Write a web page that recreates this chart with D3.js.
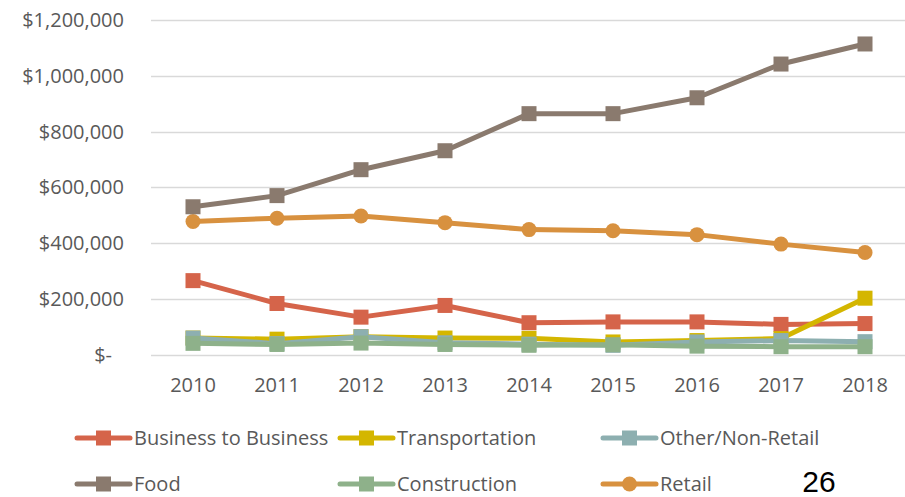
<!DOCTYPE html>
<html><head><meta charset="utf-8">
<script src="https://cdn.jsdelivr.net/npm/d3@7"></script>
<style>body{margin:0;background:#fff}svg{display:block}</style>
</head><body>
<svg id="c" width="905" height="497"></svg>
<script>
const years = ["2010","2011","2012","2013","2014","2015","2016","2017","2018"];
const businessToBusiness = [265000,183000,134000,176000,114000,117000,117000,108000,111000];
const transportation = [59000,55000,64000,59000,58000,45000,50000,57000,202000];
const otherNonRetail = [59000,39000,64000,42000,37000,33000,45000,50000,46000];
const food = [530000,570000,663000,731000,864000,864000,921000,1042000,1114000];
const construction = [40000,36000,41000,36000,33000,35000,30000,28000,28000];
const retail = [477000,489000,497000,473000,448000,444000,430000,396000,366000];
const yTicks = [0,200000,400000,600000,800000,1000000,1200000];

const series = [
  {name:"Business to Business", values:businessToBusiness, color:"#D5644A", marker:"square"},
  {name:"Transportation", values:transportation, color:"#D4B600", marker:"square"},
  {name:"Other/Non-Retail", values:otherNonRetail, color:"#8DAFB0", marker:"square"},
  {name:"Food", values:food, color:"#8A7A6E", marker:"square"},
  {name:"Construction", values:construction, color:"#8EB18A", marker:"square"},
  {name:"Retail", values:retail, color:"#D8913F", marker:"circle"}
];
const drawOrder = ["Business to Business","Retail","Food","Transportation","Other/Non-Retail","Construction"];

const svg = d3.select("#c");
const font = "'Open Sans', sans-serif";
const fs = 20;
const x = d3.scaleBand().domain(years).range([151, 907]);
const y = d3.scaleLinear().domain([0,1200000]).range([354.5, 20]);

svg.append("g").selectAll("line").data(yTicks).join("line")
  .attr("x1",151).attr("x2",905)
  .attr("y1",d=>Math.round(y(d))+0.5).attr("y2",d=>Math.round(y(d))+0.5)
  .attr("stroke","#D9D9D9").attr("stroke-width",1.5);

const fmt = d => d===0 ? "$-" : "$" + d3.format(",")(d);
svg.append("g").selectAll("text").data(yTicks).join("text")
  .attr("x",d=> d===0 ? 112 : 124).attr("y",d=>y(d))
  .attr("dy","0.35em").attr("text-anchor","end")
  .attr("font-family",font).attr("font-size",fs).attr("fill","#595959")
  .text(fmt);

svg.append("g").selectAll("text").data(years).join("text")
  .attr("x",d=>x(d)+x.bandwidth()/2).attr("y",385)
  .attr("dy","0.35em").attr("text-anchor","middle")
  .attr("font-family",font).attr("font-size",fs).attr("fill","#595959")
  .text(d=>d);

const line = d3.line().x((d,i)=>x(years[i])+x.bandwidth()/2).y(d=>y(d));

function drawMarker(g, cx, cy, s){
  if(s.marker==="circle"){
    g.append("circle").attr("cx",cx).attr("cy",cy).attr("r",7.5).attr("fill",s.color);
  } else {
    g.append("rect").attr("x",cx-7.5).attr("y",cy-7.5).attr("width",15).attr("height",15).attr("fill",s.color);
  }
}

drawOrder.forEach(n=>{
  const s = series.find(d=>d.name===n);
  const g = svg.append("g");
  g.append("path").datum(s.values).attr("d",line)
    .attr("fill","none").attr("stroke",s.color).attr("stroke-width",5).attr("stroke-linejoin","round");
  s.values.forEach((v,i)=>drawMarker(g, x(years[i])+x.bandwidth()/2, y(v), s));
});

const legX = [77,340,603];
const legY = [438,484];
series.forEach((s,i)=>{
  const lx = legX[i%3], ly = legY[Math.floor(i/3)];
  const g = svg.append("g");
  g.append("line").attr("x1",lx).attr("x2",lx+53).attr("y1",ly).attr("y2",ly)
    .attr("stroke",s.color).attr("stroke-width",5).attr("stroke-linecap","round");
  drawMarker(g, lx+26.5, ly, s);
  g.append("text").attr("x",lx+57).attr("y",ly).attr("dy","0.35em")
    .attr("font-family",font).attr("font-size",fs).attr("fill","#595959").text(s.name);
});

svg.append("text").attr("x",819).attr("y",492).attr("text-anchor","middle")
  .attr("font-family","'Liberation Sans', Arial, sans-serif").attr("font-size",30).attr("fill","#000").text("26");
</script>
</body></html>
